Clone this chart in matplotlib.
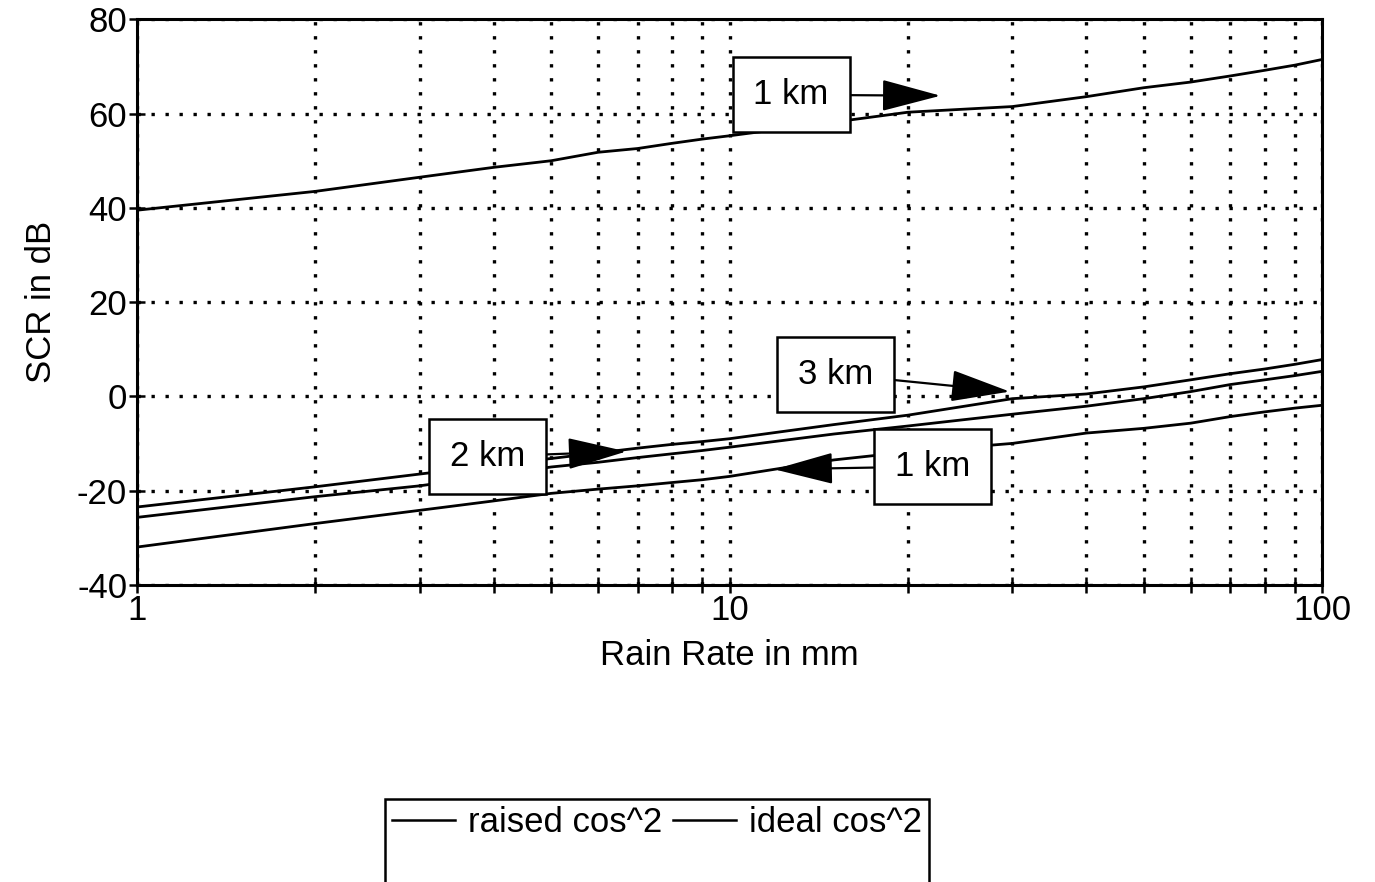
"""SCR vs rain rate, raised vs ideal cos^2 weighting, 1/2/3 km ranges."""
import matplotlib
matplotlib.use('Agg')
import matplotlib.pyplot as plt
from matplotlib.lines import Line2D
from matplotlib.ticker import LogLocator, FixedLocator, NullFormatter

plt.rcParams['font.family'] = ['Liberation Sans Narrow', 'Liberation Sans', 'DejaVu Sans']
plt.rcParams['axes.unicode_minus'] = False

# ─── Data ───
rain = [1, 2, 3, 4, 5, 6, 7, 8, 9, 10, 15, 20, 30, 40, 50, 60, 70, 80, 90, 100]
scr_top_1km = [39.5, 43.5, 46.5, 48.6, 50.0, 51.8, 52.6, 53.7, 54.6, 55.3,
               58.2, 60.3, 61.5, 63.6, 65.5, 66.7, 68.0, 69.2, 70.3, 71.5]
scr_3km = [-23.5, -19.2, -16.5, -14.6, -13.2, -12.0, -11.0, -10.2, -9.6, -9.0,
           -6.0, -4.0, -0.5, 0.5, 2.0, 3.5, 4.8, 5.8, 6.8, 7.8]
scr_2km = [-25.7, -21.3, -19.0, -16.8, -15.0, -14.0, -13.0, -12.2, -11.5, -10.8,
           -8.0, -6.3, -3.8, -2.1, -0.5, 1.0, 2.5, 3.5, 4.4, 5.3]
scr_low_1km = [-32.0, -27.0, -24.2, -22.2, -20.6, -19.7, -19.0, -18.3, -17.7, -17.0,
               -13.5, -11.8, -10.0, -7.8, -6.8, -5.7, -4.3, -3.3, -2.5, -1.9]

# label text, text position (x, y), arrow tip (x, y)
notes = [
    ('1 km', (12.7, 64.0), (22.7, 63.8)),
    ('3 km', (15.1, 4.7), (29.7, 1.0)),
    ('2 km', (3.9, -12.8), (6.7, -11.7)),
    ('1 km', (22.0, -14.9), (11.9, -15.5)),
]
legend_labels = ['raised cos^2', 'ideal cos^2']

fig = plt.figure(figsize=(13.75, 8.82), dpi=100)
ax = fig.add_axes([0.0996, 0.337, 0.862, 0.641])

for ys in (scr_top_1km, scr_3km, scr_2km, scr_low_1km):
    ax.plot(rain, ys, color='black', linewidth=2)

ax.set_xscale('log')
ax.set_xlim(1, 100)
ax.set_ylim(-40, 80)
ax.set_yticks(range(-40, 81, 20))
ax.xaxis.set_major_locator(FixedLocator([1, 10, 100]))
ax.set_xticklabels(['1', '10', '100'])
ax.xaxis.set_minor_locator(LogLocator(base=10, subs=range(2, 10)))
ax.xaxis.set_minor_formatter(NullFormatter())

dot = dict(color='black', linestyle=(0, (1, 3.2)), linewidth=2.4)
ax.grid(True, which='major', **dot)
ax.grid(True, which='minor', axis='x', **dot)

for s in ax.spines.values():
    s.set_linewidth(2.2)
ax.tick_params(which='both', direction='inout', length=12, width=1.8,
               labelsize=25, top=False, right=False)
ax.tick_params(axis='x', pad=1)
ax.tick_params(axis='y', pad=1)
ax.set_xlabel('Rain Rate in mm', fontsize=25, labelpad=8)
ax.set_ylabel('SCR in dB', fontsize=25, labelpad=14)

for txt, xy_text, xy_tip in notes:
    ax.annotate(txt, xy=xy_tip, xytext=xy_text, fontsize=25,
                ha='center', va='center', zorder=5,
                bbox=dict(boxstyle='square,pad=0.6', fc='white', ec='black', lw=1.8),
                arrowprops=dict(arrowstyle='-|>,head_length=1.5,head_width=0.4',
                                color='black', lw=1.6, shrinkA=0, shrinkB=0))

# column-major fill: each column = real entry over an empty row
handles = []
labels = []
for lab in legend_labels:
    handles += [Line2D([], [], color='black', lw=1.8), Line2D([], [], color='none')]
    labels += [lab, ' ']
leg = fig.legend(handles, labels, ncol=2,
                 loc='center', bbox_to_anchor=(0.478, 0.045),
                 fontsize=25, frameon=True, fancybox=False, edgecolor='black',
                 framealpha=1, handlelength=1.8, handletextpad=0.4, columnspacing=0.3,
                 borderpad=0.2, labelspacing=0.2)
leg.get_frame().set_linewidth(1.8)

fig.savefig('out.png', dpi=100)
